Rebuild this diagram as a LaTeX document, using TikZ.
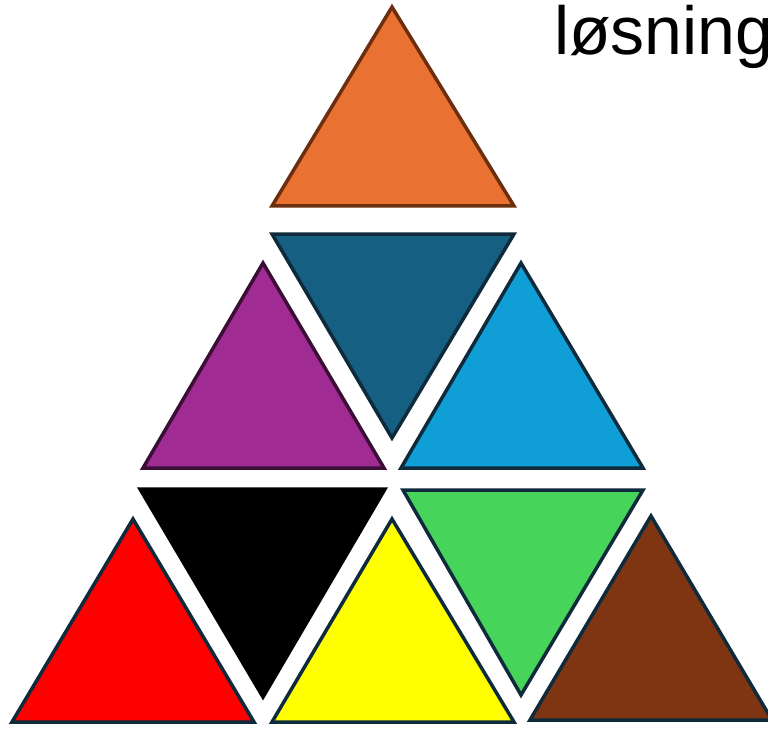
\documentclass[tikz,border=0pt]{standalone}
\usepackage{fontspec}
\setmainfont{Liberation Sans}
\definecolor{cOrange}{HTML}{E97132}
\definecolor{sOrange}{HTML}{6B2E0E}
\definecolor{cDblue}{HTML}{156082}
\definecolor{cPurple}{HTML}{A02B93}
\definecolor{sPurple}{HTML}{3B0F35}
\definecolor{cLblue}{HTML}{0F9ED5}
\definecolor{sDark}{HTML}{0E2A3B}
\definecolor{cGreen}{HTML}{47D45A}
\definecolor{cBrown}{HTML}{7F3511}
\definecolor{cRed}{HTML}{FF0000}
\definecolor{cYellow}{HTML}{FFFF00}
\definecolor{cBlack}{HTML}{000000}
\tikzset{tri/.style={line width=3.5pt, line join=miter}}
\begin{document}
\begin{tikzpicture}[x=1pt,y=-1pt]
\useasboundingbox (0,0) rectangle (768,730);
\fill[white] (0,0) rectangle (768,730);
% top
\draw[tri, fill=cOrange, draw=sOrange] (392,7) -- (514,206) -- (272,206) -- cycle;
% second row
\draw[tri, fill=cDblue, draw=sDark] (272,234) -- (514,234) -- (392,438) -- cycle;
\draw[tri, fill=cPurple, draw=sPurple] (263,263) -- (384,468) -- (143,468) -- cycle;
\draw[tri, fill=cLblue, draw=sDark] (521,263) -- (643,468) -- (401,468) -- cycle;
% third row
\draw[tri, fill=cBlack, draw=cBlack] (140,489) -- (385,489) -- (263,697) -- cycle;
\draw[tri, fill=cGreen, draw=sDark] (403,490) -- (643,490) -- (521,695) -- cycle;
\draw[tri, fill=cRed, draw=sDark] (133,519) -- (254,722) -- (12,722) -- cycle;
\draw[tri, fill=cYellow, draw=sDark] (392,519) -- (514,722) -- (272,722) -- cycle;
\draw[tri, fill=cBrown, draw=sDark] (651,516) -- (772,720) -- (530,720) -- cycle;
% text
\node[anchor=base west, inner sep=0pt, font=\fontsize{68}{80}\selectfont] (lbl) at (554,55) {løsning};
\end{tikzpicture}
\end{document}
